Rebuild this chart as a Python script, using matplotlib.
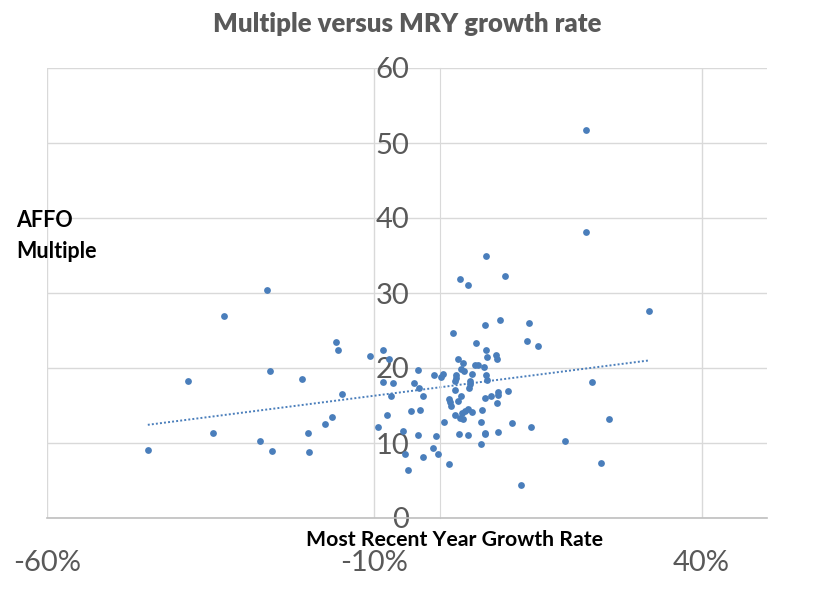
import matplotlib
matplotlib.use("Agg")
import matplotlib.pyplot as plt
import numpy as np
from matplotlib.ticker import FixedLocator, FuncFormatter

# growth rate in %, AFFO multiple
growth = [-44.6, -38.5, -34.7, -32.9, -27.4, -26.4, -25.9, -25.7, -21.0, -20.1,
          -20.0, -17.5, -16.4, -15.8, -15.5, -14.9, -10.7, -9.4, -8.7, -8.7,
          -8.1, -7.8, -7.5, -7.1, -5.6, -5.3, -4.9, -4.4, -3.9, -3.3,
          -3.3, -3.2, -3.0, -2.6, -2.6, -1.1, -0.9, -0.6, -0.3, 0.2,
          0.5, 0.6, 1.4, 1.4, 1.5, 1.7, 2.1, 2.3, 2.8, 3.5,
          3.2, 3.7, 2.5, 2.5, 2.3, 2.3, 3.2, 2.8, 4.3, 3.8,
          3.4, 3.1, 3.5, 5.0, 2.9, 4.3, 4.9, 4.7, 4.6, 4.4,
          5.5, 5.4, 5.8, 6.7, 6.9, 7.0, 7.2, 7.0, 7.2, 6.9,
          6.4, 6.3, 6.9, 6.9, 6.3, 7.8, 9.2, 8.6, 8.7, 8.9,
          8.9, 8.7, 8.9, 10.5, 11.0, 12.4, 13.3, 13.7, 15.0, 13.9,
          19.1, 23.2, 25.9, 24.6, 31.9, 22.4, 22.3, 7.0, 3.1, 4.3,
          9.9]
multiple = [9.1, 18.3, 11.4, 27.0, 10.3, 30.4, 19.6, 9.0, 18.6, 11.4,
            8.8, 12.6, 13.5, 23.5, 22.4, 16.6, 21.6, 12.2, 22.4, 18.2,
            13.8, 21.2, 16.3, 18.0, 11.6, 8.6, 6.4, 14.3, 18.0, 19.8,
            11.1, 17.4, 14.4, 16.3, 8.2, 9.4, 19.1, 11.0, 8.6, 18.8,
            19.2, 12.8, 7.2, 15.9, 15.5, 15.0, 24.7, 13.8, 21.2, 20.7,
            19.9, 19.6, 19.1, 18.7, 18.3, 17.1, 16.3, 15.6, 14.6, 14.3,
            14.0, 13.4, 13.2, 14.2, 11.2, 11.1, 19.2, 18.3, 17.9, 17.4,
            23.4, 20.4, 20.4, 20.2, 25.8, 22.4, 21.5, 19.1, 18.4, 16.0,
            14.4, 12.8, 11.4, 11.2, 9.9, 16.3, 26.4, 21.8, 21.2, 16.8,
            16.4, 15.4, 11.5, 17.0, 12.7, 4.4, 23.6, 26.0, 23.0, 12.2,
            10.3, 18.2, 13.2, 7.4, 27.6, 51.8, 38.2, 35.0, 31.9, 31.1,
            32.3]
x_ticks = [-0.6, -0.1, 0.4]
y_ticks = [0, 10, 20, 30, 40, 50, 60]

x = np.array(growth) / 100.0
y = np.array(multiple)

plt.rcParams['font.family'] = ['Lato', 'DejaVu Sans']

fig = plt.figure(figsize=(8.14, 5.89), dpi=100)
ax = fig.add_axes([47 / 814, 71 / 589, 720 / 814, 450 / 589])

blue = '#4a7ebb'
grid_c = '#d9d9d9'

ax.scatter(x, y, s=24, color=blue, zorder=3, linewidths=0)

# linear trendline
k, b = np.polyfit(x, y, 1)
tx = np.array([x.min(), x.max()])
ax.plot(tx, k * tx + b, color=blue, linestyle=(0, (1, 1.1)), linewidth=1.4, zorder=2)

ax.set_xlim(-0.6, 0.5)
ax.set_ylim(0, 60)
ax.xaxis.set_major_locator(FixedLocator(x_ticks))
ax.yaxis.set_major_locator(FixedLocator(y_ticks))
ax.xaxis.set_major_formatter(FuncFormatter(lambda v, p: '%d%%' % round(v * 100)))
ax.grid(True, color=grid_c, linewidth=1, zorder=0)
ax.set_axisbelow(True)

for s in ['top', 'right']:
    ax.spines[s].set_visible(False)
ax.spines['left'].set_position(('data', 0))
ax.spines['left'].set_color(grid_c)
ax.spines['bottom'].set_color('#bfbfbf')
ax.spines['bottom'].set_linewidth(1.2)

ax.tick_params(axis='both', length=0, labelcolor='#595959', labelsize=21)
ax.tick_params(axis='y', pad=22)
ax.tick_params(axis='x', pad=23)

fig.text(407 / 814, 1 - 24 / 589, 'Multiple versus MRY growth rate', ha='center', va='center',
         fontsize=18.5, fontweight='heavy', color='#595959')
fig.text(454 / 814, 1 - 540 / 589, 'Most Recent Year Growth Rate', ha='center', va='center',
         fontsize=15.3, fontweight='bold', color='black')
fig.text(16 / 814, 1 - 236 / 589, 'AFFO\nMultiple', ha='left', va='center',
         fontsize=15.5, fontweight='bold', color='black', linespacing=1.55)

fig.savefig('out.png', dpi=100)
